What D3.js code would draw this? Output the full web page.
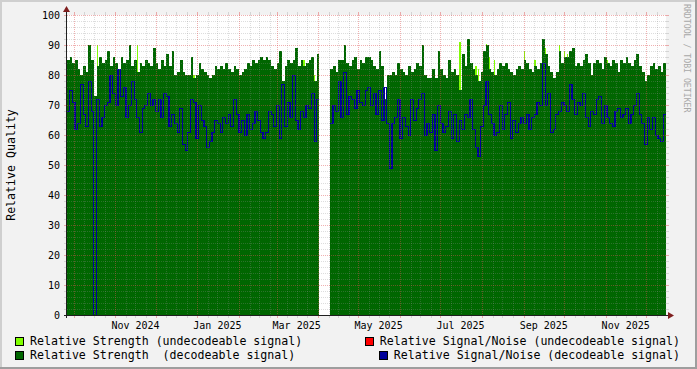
<!DOCTYPE html>
<html lang="en">
<head>
<meta charset="UTF-8">
<title>Relative Quality</title>
<script src="https://d3js.org/d3.v7.min.js"></script>
<style>
  body { margin: 0; background: #f2f2f2; }
  svg { display: block; font-family: "DejaVu Sans Mono", monospace; }
  .tick-label { font-size: 10px; fill: #000; }
  .legend text { font-size: 11.6px; fill: #000; white-space: pre; }
</style>
</head>
<body>
<div id="chart"></div>
<script>
  // one sample every 2 days, starting at startDay
  const startDay = "2024-09-26";
  const endDay = "2025-12-16";
  const stepDays = 2;

  // Relative Strength (decodeable signal), null = no data
  const strengthDecoded = [
    85,86,84,85,82,80,83,81,90,85, 73,83,86,84,85,88,83,86,84,82,
    86,84,85,90,83,85,81,84,83,85, 84,83,89,84,82,85,83,
    87,83,88,80,81,85,81,80,80,86, 79,80,84,82,81,80,79,80,83,82,
    83,82,84,82,81,83,82,80,81,82, 84,83,85,84,85,86,85,
    86,85,83,82,84,88,78,83,85,84, 85,89,83,85,83,84,85,86,78,87,
    null,null,null,null,
    82,83,81,85,85,90,84,83,85,86, 82,85,84,
    86,86,85,83,82,88,83,72,80,80, 81,80,84,82,81,80,83,81,82,84,
    83,90,80,79,79,82,79,88,82,80, 79,85,81,82,80,75,87,83,
    92,84,82,80,78,81,88,90,82,81, 80,82,84,83,84,82,81,80,82,83,
    82,85,84,82,81,83,82,84,92,87, 83,81,79,81,88,84,86,
    86,88,89,83,84,83,85,87,84,80, 84,85,84,82,86,84,83,85,84,81,
    85,84,86,84,83,85,87,83,81,78, 80,83,84,82,83,81,84
  ];

  // Relative Signal/Noise (decodeable signal)
  const snrDecoded = [
    68,75,71,62,64,77,67,63,78,68, 0,72,63,66,70,71,80,74,70,82,
    73,76,66,70,78,72,66,61,69,70, 74,70,72,68,72,66,74,
    73,63,67,64,61,69,57,55,61,72, 71,59,70,65,63,56,58,61,65,64,
    61,66,64,67,63,72,67,61,65,60, 67,62,64,68,65,61,59,
    61,68,67,63,70,59,77,63,71,66, 80,65,62,68,66,70,69,74,58,72,
    null,null,null,null,
    64,70,68,78,66,81,67,73,72,69, 75,71,70,
    75,76,70,74,67,75,65,76,64,49, 64,66,72,59,66,63,60,72,65,69,
    72,74,60,64,61,67,55,70,64,61, 63,68,59,67,58,65,62,67,
    66,72,62,56,53,63,70,78,67,64, 60,61,70,62,67,71,59,65,61,64,
    66,64,67,62,66,67,71,70,84,70, 74,61,62,67,68,71,70,
    68,77,72,67,71,70,74,66,63,68, 67,72,73,64,70,66,64,63,68,69,
    66,67,69,64,67,70,74,67,64,57, 66,62,66,60,59,58,67
  ];

  // Relative Strength (undecodeable signal), single days where it shows above the decodeable one
  const undecodedDays = [
    "2024-10-18","2024-11-17","2024-12-29","2025-03-21","2025-03-29",
    "2025-07-15","2025-07-27","2025-07-29","2025-08-04","2025-08-06",
    "2025-08-10","2025-09-01","2025-09-09","2025-09-17","2025-09-27",
    "2025-10-01","2025-10-03","2025-11-02"
  ];
  const undecodedValues = [
    90,90,80,85,80,
    91,83,82,90.5,86,
    85,88,85,89,90,
    88,87,85
  ];

  const yTickValues = [0,10,20,30,40,50,60,70,80,90,100];
  const monthLabels = ["Nov 2024","Jan 2025","Mar 2025","May 2025","Jul 2025","Sep 2025","Nov 2025"];
  const monthLabelDays = ["2024-11-16","2025-01-16","2025-03-16","2025-05-16","2025-07-16","2025-09-16","2025-11-16"];

  const legendLabels = [
    "Relative Strength (undecodeable signal)",
    "Relative Signal/Noise (undecodeable signal)",
    "Relative Strength  (decodeable signal)",
    "Relative Signal/Noise (decodeable signal)"
  ];
  const legendColors = ["#80ff00", "#ff0000", "#006600", "#000099"];

  const W = 697, H = 369;
  const plot = { left: 67, right: 666, top: 15, bottom: 315 };
  const gridColor = "rgba(143,143,143,0.3)";
  const mgridColor = "rgba(222,80,80,0.45)";

  const parseDay = d3.timeParse("%Y-%m-%d");
  const t0 = parseDay(startDay);
  const sampleDate = i => d3.timeDay.offset(t0, i * stepDays);

  const x = d3.scaleTime().domain([t0, parseDay(endDay)]).range([plot.left, plot.right]);
  const y = d3.scaleLinear().domain([0, 100]).range([plot.bottom, plot.top]);

  const svg = d3.select("#chart").append("svg")
    .attr("width", W)
    .attr("height", H);

  // background and 3d frame
  svg.append("rect").attr("width", W).attr("height", H).attr("fill", "#f2f2f2");
  svg.append("path").attr("d", `M0,0H${W}V2H2V${H}H0Z`).attr("fill", "#cfcfcf");
  svg.append("path").attr("d", `M${W},${H}H0V${H-2}H${W-2}V0H${W}Z`).attr("fill", "#9e9e9e");

  // canvas
  svg.append("rect")
    .attr("x", plot.left).attr("y", plot.top)
    .attr("width", plot.right - plot.left).attr("height", plot.bottom - plot.top)
    .attr("fill", "#fff");

  // step series: every sample holds its value for stepDays
  function stepPoints(values) {
    const pts = [];
    values.forEach((v, i) => {
      pts.push({ t: sampleDate(i), v: v });
      pts.push({ t: sampleDate(i + 1), v: v });
    });
    return pts;
  }

  // undecodeable strength (drawn first, shows only where higher)
  svg.selectAll(".undecoded")
    .data(undecodedDays.map((d, i) => ({ t: parseDay(d), v: undecodedValues[i] })))
    .enter().append("rect")
    .attr("class", "undecoded")
    .attr("x", d => x(d.t))
    .attr("width", d => x(d3.timeDay.offset(d.t, 1)) - x(d.t))
    .attr("y", d => y(d.v))
    .attr("height", d => y(0) - y(d.v))
    .attr("fill", "#80ff00")
    .attr("shape-rendering", "crispEdges");

  const area = d3.area()
    .defined(d => d.v !== null)
    .x(d => x(d.t))
    .y0(y(0))
    .y1(d => y(d.v));

  svg.append("path")
    .datum(stepPoints(strengthDecoded))
    .attr("d", area)
    .attr("fill", "#006600")
    .attr("shape-rendering", "crispEdges");

  const line = d3.line()
    .defined(d => d.v !== null)
    .x(d => x(d.t))
    .y(d => y(d.v) + 0.5);

  svg.append("path")
    .datum(stepPoints(snrDecoded))
    .attr("d", line)
    .attr("fill", "none")
    .attr("stroke", "#000099")
    .attr("stroke-width", 1.2)
    .attr("shape-rendering", "crispEdges");

  // grid on top of the graph
  const grid = svg.append("g").attr("shape-rendering", "crispEdges");

  const minorY = d3.range(2, 101, 2).filter(v => v % 10 !== 0);
  const majorY = yTickValues.filter(v => v > 0);
  const [d0, d1] = x.domain();
  const minorX = d3.timeDay.range(d0, d1).filter(d => [9, 16, 24].includes(d.getDate()));
  const majorX = d3.timeMonth.range(d0, d1);

  function hLines(vals, color) {
    vals.forEach(v => {
      const yy = Math.round(y(v)) + 0.5;
      grid.append("line").attr("x1", plot.left).attr("x2", plot.right).attr("y1", yy).attr("y2", yy)
        .attr("stroke", color).attr("stroke-dasharray", "1,1");
      grid.append("line").attr("x1", plot.left - 3).attr("x2", plot.left).attr("y1", yy).attr("y2", yy)
        .attr("stroke", color);
      grid.append("line").attr("x1", plot.right).attr("x2", plot.right + 3).attr("y1", yy).attr("y2", yy)
        .attr("stroke", color);
    });
  }
  function vLines(dates, color) {
    dates.forEach(d => {
      const xx = Math.round(x(d)) + 0.5;
      grid.append("line").attr("x1", xx).attr("x2", xx).attr("y1", plot.top).attr("y2", plot.bottom)
        .attr("stroke", color).attr("stroke-dasharray", "1,1");
      grid.append("line").attr("x1", xx).attr("x2", xx).attr("y1", plot.top - 3).attr("y2", plot.top)
        .attr("stroke", color);
      grid.append("line").attr("x1", xx).attr("x2", xx).attr("y1", plot.bottom).attr("y2", plot.bottom + 3)
        .attr("stroke", color);
    });
  }
  hLines(minorY, gridColor);
  vLines(minorX, gridColor);
  hLines(majorY, mgridColor);
  vLines(majorX, mgridColor);

  // axes
  svg.append("line").attr("x1", plot.left - 3).attr("x2", plot.right + 4)
    .attr("y1", plot.bottom + 0.5).attr("y2", plot.bottom + 0.5)
    .attr("stroke", "#1f1f1f").attr("shape-rendering", "crispEdges");
  svg.append("line").attr("x1", plot.left - 0.5).attr("x2", plot.left - 0.5)
    .attr("y1", plot.bottom + 3).attr("y2", plot.top - 5)
    .attr("stroke", "#1f1f1f").attr("shape-rendering", "crispEdges");
  svg.append("path").attr("d", `M${plot.right + 8},${plot.bottom + 0.5}l-6,-3.5v7Z`).attr("fill", "#7f1f1f");
  svg.append("path").attr("d", `M${plot.left - 0.5},${plot.top - 9}l-3.5,6h7Z`).attr("fill", "#7f1f1f");

  // y tick labels
  svg.selectAll(".ylab")
    .data(yTickValues)
    .enter().append("text")
    .attr("class", "tick-label")
    .attr("x", 60)
    .attr("y", d => y(d) + 3.5)
    .attr("text-anchor", "end")
    .text(d => d);

  // x tick labels, centred in their month
  svg.selectAll(".xlab")
    .data(monthLabels)
    .enter().append("text")
    .attr("class", "tick-label")
    .attr("x", (d, i) => x(parseDay(monthLabelDays[i])))
    .attr("y", 328.5)
    .attr("text-anchor", "middle")
    .text(d => d);

  // y axis title
  svg.append("text")
    .attr("transform", `translate(15,${(plot.top + plot.bottom) / 2}) rotate(-90)`)
    .attr("text-anchor", "middle")
    .style("font-size", "11.6px")
    .text("Relative Quality");

  // watermark
  svg.append("text")
    .attr("transform", "translate(684,4) rotate(90)")
    .style("font-size", "8.2px")
    .attr("fill", "#a8a8a8")
    .text("RRDTOOL / TOBI OETIKER");

  // legend: left column left-aligned, right column right-aligned
  const legend = svg.append("g").attr("class", "legend");
  legendLabels.forEach((label, i) => {
    const row = Math.floor(i / 2), col = i % 2;
    const baseY = 345 + row * 14;
    const txt = legend.append("text")
      .attr("y", baseY)
      .attr("xml:space", "preserve")
      .text(label);
    let tx;
    if (col === 0) {
      tx = 30;
      txt.attr("x", tx);
    } else {
      txt.attr("x", 680).attr("text-anchor", "end");
      tx = 680 - txt.node().getComputedTextLength();
    }
    legend.append("rect")
      .attr("x", Math.round(tx) - 14.5)
      .attr("y", baseY - 7.5)
      .attr("width", 8)
      .attr("height", 8)
      .attr("fill", legendColors[i])
      .attr("stroke", "#000")
      .attr("shape-rendering", "crispEdges");
  });
</script>
</body>
</html>
